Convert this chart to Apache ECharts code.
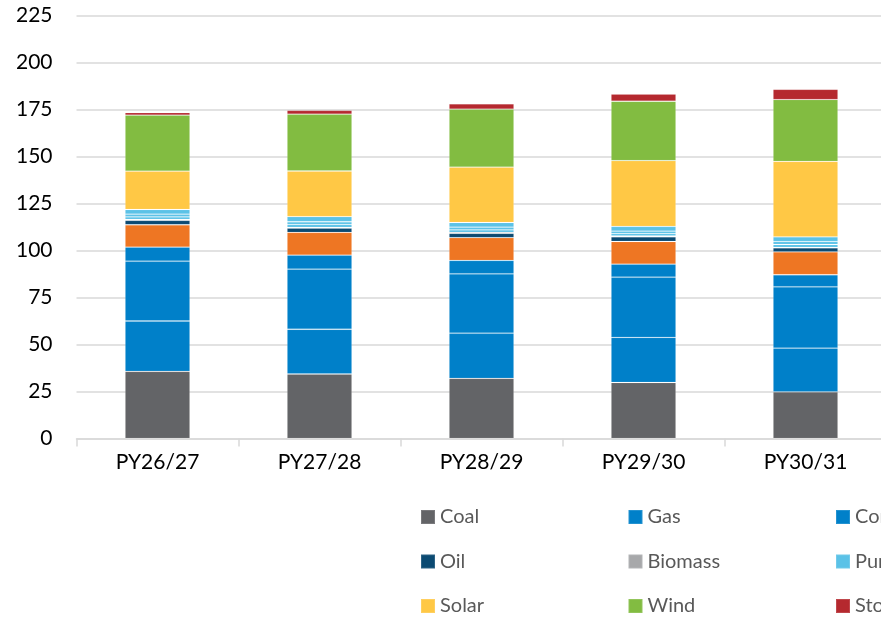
<!DOCTYPE html>
<html>
<head>
<meta charset="utf-8">
<title>Installed capacity by planning year</title>
<script src="https://cdn.jsdelivr.net/npm/echarts@6/dist/echarts.min.js"></script>
<style>
  html, body { margin: 0; padding: 0; background: #ffffff; }
  #chart { width: 881px; height: 617px; }
</style>
</head>
<body>
<div id="chart"></div>
<script>
// Planning years on the category axis
const years = ['PY26/27', 'PY27/28', 'PY28/29', 'PY29/30', 'PY30/31'];

// Value-axis ticks
const yTicks = [0, 25, 50, 75, 100, 125, 150, 175, 200, 225];

// Capacity by technology, one value per planning year (stacked bottom to top)
const coal          = [35.7, 34.3, 32.0, 29.8, 24.8];
const gas           = [26.8, 23.8, 24.0, 24.0, 23.3];
const combinedCycle = [31.8, 32.0, 31.6, 32.0, 32.6];
const gasTurbine    = [7.5, 7.4, 7.1, 6.9, 6.4];
const nuclear       = [11.9, 12.1, 12.1, 12.1, 12.2];
const oil           = [2.3, 2.3, 2.3, 2.5, 2.1];
const biomass       = [0.5, 0.4, 0.5, 0.4, 0.3];
const pumpedHydro   = [1.4, 1.5, 1.4, 1.3, 1.5];
const hydro         = [1.4, 1.5, 1.4, 1.3, 1.5];
const geothermal    = [2.5, 2.7, 2.5, 2.5, 2.6];
const solar         = [20.4, 24.3, 29.5, 35.0, 40.1];
const wind          = [29.8, 30.2, 30.8, 31.6, 32.9];
const storage       = [1.3, 2.0, 2.8, 3.8, 5.4];

// Series names, in stacking order and legend order (row by row)
const seriesNames = ['Coal', 'Gas', 'Combined cycle', 'Gas turbine', 'Nuclear',
                     'Oil', 'Biomass', 'Pumped hydro', 'Hydro', 'Geothermal',
                     'Solar', 'Wind', 'Storage'];
const seriesData = [coal, gas, combinedCycle, gasTurbine, nuclear,
                    oil, biomass, pumpedHydro, hydro, geothermal,
                    solar, wind, storage];

const palette = {
  'Coal': '#636467',
  'Gas': '#0080C9',
  'Combined cycle': '#0080C9',
  'Gas turbine': '#0080C9',
  'Nuclear': '#EE7623',
  'Oil': '#0B4A72',
  'Biomass': '#A7A8AA',
  'Pumped hydro': '#5BC2E7',
  'Hydro': '#5BC2E7',
  'Geothermal': '#5BC2E7',
  'Solar': '#FFC845',
  'Wind': '#82BC41',
  'Storage': '#B5292F'
};

const series = seriesNames.map((name, i) => ({
  name: name,
  type: 'bar',
  stack: 'capacity',
  barWidth: 65,
  data: seriesData[i],
  itemStyle: {
    color: palette[name],
    borderColor: 'rgba(255,255,255,0.14)',
    borderWidth: 0.8
  },
  emphasis: { disabled: true }
}));

// Legend: five columns, three rows, one component per entry
const legendCols = 5;
const legends = seriesNames.map((name, i) => ({
  data: [name],
  left: 420 + (i % legendCols) * 207.5,
  top: 507 + Math.floor(i / legendCols) * 44.5,
  orient: 'horizontal',
  itemWidth: 14,
  itemHeight: 14,
  itemGap: 0,
  icon: 'rect',
  selectedMode: false,
  padding: 0,
  textStyle: {
    fontFamily: 'Lato',
    fontSize: 20,
    color: '#595959',
    padding: [0, 0, 0, 0]
  }
}));

const chart = echarts.init(document.getElementById('chart'), null, { renderer: 'canvas' });
chart.setOption({
  animation: false,
  backgroundColor: '#ffffff',
  grid: {
    left: 76.5, top: 15.5, width: 810, height: 423,
    containLabel: false,
    outerBoundsMode: 'none'
  },
  legend: legends,
  xAxis: {
    type: 'category',
    data: years,
    axisLine: { show: true, lineStyle: { color: '#d9d9d9', width: 1.5 } },
    axisTick: { show: true, length: 8, lineStyle: { color: '#d9d9d9', width: 1.5 } },
    axisLabel: {
      fontFamily: 'Lato',
      fontSize: 21,
      color: '#000000',
      margin: 13
    }
  },
  yAxis: {
    type: 'value',
    min: yTicks[0],
    max: yTicks[yTicks.length - 1],
    interval: yTicks[1] - yTicks[0],
    axisLine: { show: false },
    axisTick: { show: false },
    axisLabel: {
      fontFamily: 'Lato',
      fontSize: 21,
      color: '#000000',
      margin: 24
    },
    splitLine: { lineStyle: { color: '#d9d9d9', width: 1.5 } }
  },
  series: series
});
</script>
</body>
</html>
